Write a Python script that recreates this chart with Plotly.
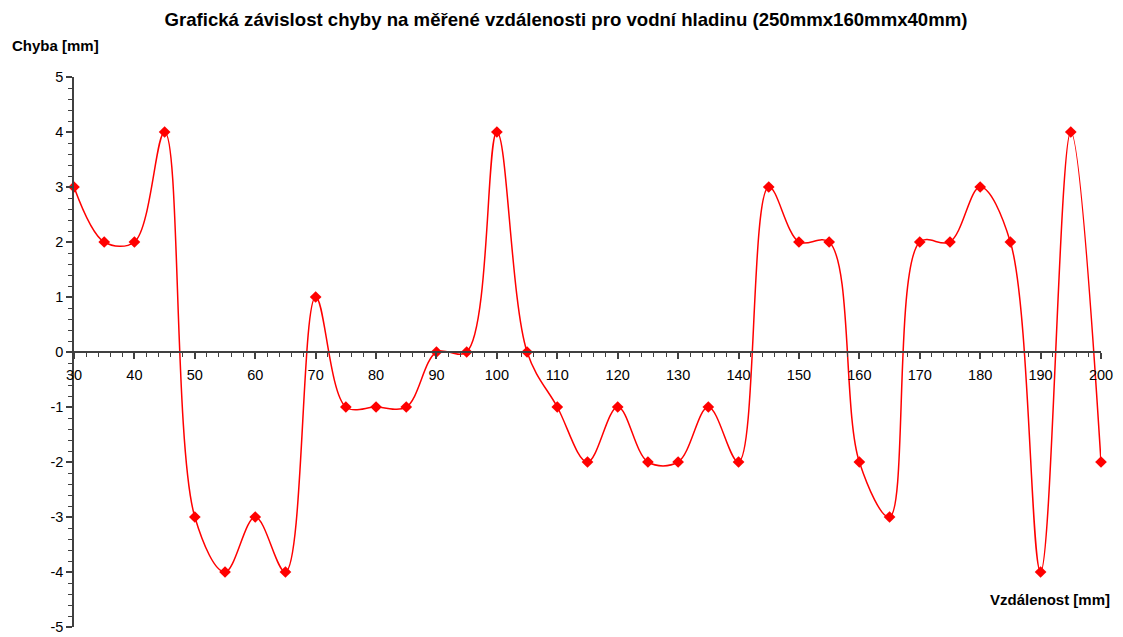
import plotly.graph_objects as go

# Measured distances [mm] and corresponding errors [mm]
distance = [30, 35, 40, 45, 50, 55, 60, 65, 70, 75, 80, 85, 90, 95, 100, 105, 110,
            115, 120, 125, 130, 135, 140, 145, 150, 155, 160, 165, 170, 175, 180,
            185, 190, 195, 200]
error = [3, 2, 2, 4, -3, -4, -3, -4, 1, -1, -1, -1, 0, 0, 4, 0, -1,
         -2, -1, -2, -2, -1, -2, 3, 2, 2, -2, -3, 2, 2, 3,
         2, -4, 4, -2]

# Y tick labels written with a plain hyphen minus
y_ticks = [-5, -4, -3, -2, -1, 0, 1, 2, 3, 4, 5]
y_labels = ["-5", "-4", "-3", "-2", "-1", "0", "1", "2", "3", "4", "5"]

W, H = 1123, 637
L, R, T, B = 74, 22, 77, 10
PW, PH = W - L - R, H - T - B

fig = go.Figure()
fig.add_trace(go.Scatter(
    x=distance, y=error,
    mode="lines+markers",
    line=dict(color="#ff0000", width=1.5, shape="spline", smoothing=1.0),
    marker=dict(symbol="diamond", size=9, color="#ff0000"),
    showlegend=False,
    cliponaxis=False,
))

font = "Liberation Sans, Arial, sans-serif"

fig.update_layout(
    width=W, height=H,
    margin=dict(l=L, r=R, t=T, b=B, autoexpand=False),
    paper_bgcolor="white", plot_bgcolor="white",
    font=dict(family=font, size=14, color="black"),
    title=dict(
        text="<b>Grafická závislost chyby na měřené vzdálenosti pro vodní hladinu (250mmx160mmx40mm)</b>",
        x=566 / W, xref="container", xanchor="center",
        y=1 - 19 / H, yref="container", yanchor="middle",
        font=dict(family=font, size=18.6, color="black"),
    ),
    xaxis=dict(
        range=[30, 200], anchor="free", position=0.5, automargin=False,
        showgrid=False, zeroline=False,
        showline=True, linecolor="#404040", linewidth=1.5,
        tickmode="linear", tick0=30, dtick=10,
        ticks="outside", ticklen=6, tickcolor="#404040", tickwidth=1.5,
        ticklabelstandoff=4,
        minor=dict(tickmode="linear", tick0=30, dtick=2, ticks="outside",
                   ticklen=4, tickcolor="#404040", tickwidth=1),
        tickfont=dict(size=14.5),
    ),
    yaxis=dict(
        range=[-5, 5], automargin=False,
        showgrid=False, zeroline=False,
        showline=True, linecolor="#404040", linewidth=1.5,
        tickmode="array", tickvals=y_ticks, ticktext=y_labels,
        ticks="outside", ticklen=6, tickcolor="#404040", tickwidth=1.5,
        minor=dict(tickmode="linear", tick0=-5, dtick=0.2, ticks="outside",
                   ticklen=4, tickcolor="#404040", tickwidth=1),
        tickfont=dict(size=14.5),
    ),
    annotations=[
        dict(text="<b>Chyba [mm]</b>", xref="paper", yref="paper",
             x=(10 - L) / PW, y=1 + (T - 45) / PH,
             xanchor="left", yanchor="middle", showarrow=False,
             font=dict(family=font, size=15)),
        dict(text="<b>Vzdálenost [mm]</b>", xref="paper", yref="paper",
             x=(1112 - L) / PW, y=(H - B - 599) / PH,
             xanchor="right", yanchor="middle", showarrow=False,
             font=dict(family=font, size=15)),
    ],
)

fig.write_html("out.html")
